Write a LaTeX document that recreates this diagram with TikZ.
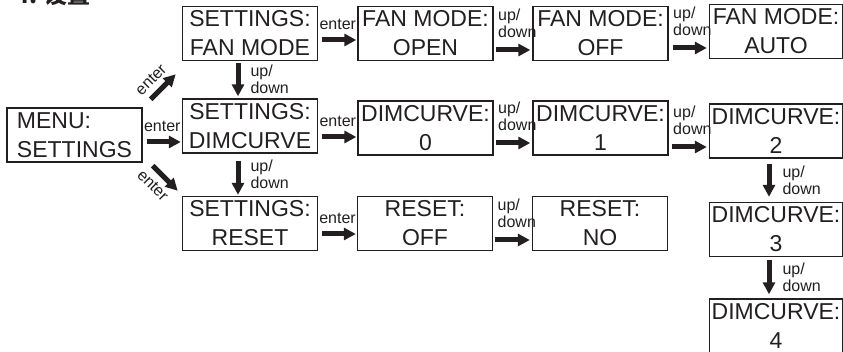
\documentclass[tikz,border=0pt]{standalone}
\usepackage{fontspec}
\setmainfont{Liberation Sans}
\newfontfamily\cjk{Noto Sans CJK SC}
\usepackage{tikz}
\usetikzlibrary{positioning}
\usetikzlibrary{arrows.meta}
\definecolor{myblack}{RGB}{35,31,32}

\tikzset{
  screen/.style={draw=myblack, line width=1.4pt, minimum width=135pt, minimum height=54pt,
                 inner sep=1pt, align=center, text=myblack, font=\fontsize{23}{29}\selectfont},
  fat/.style={draw=myblack, line width=5pt, -{Triangle[length=12pt,width=12pt]}},
  small/.style={text=myblack, inner sep=1pt, align=left, font=\fontsize{16}{17}\selectfont},
}

\begin{document}
\begin{tikzpicture}[x=1pt,y=-1pt]
	\useasboundingbox (0,0) rectangle (843,352);
	\node (T) [anchor=base west, text=myblack, font=\cjk\bfseries\fontsize{23}{23}\selectfont] at (12,4) {4. 设置};

	\begin{scope}[every node/.style={screen}]
	    \node (MS) [align=left] at (74.5,135) {MENU:\\SETTINGS};
	    \node (SF) at (250,33.5) {SETTINGS:\\FAN MODE};
	    \node (SD) at (250,126) {SETTINGS:\\DIMCURVE};
	    \node (SR) at (250,223.5) {SETTINGS:\\RESET};
	    \node (FO) at (425.5,33.5) {FAN MODE:\\OPEN};
	    \node (FF) at (600.5,33.5) {FAN MODE:\\OFF};
	    \node (FA) [minimum width=133pt] at (776,31.5) {FAN MODE:\\AUTO};
	    \node (D0) at (425.5,128) {DIMCURVE:\\0};
	    \node (D1) at (600.5,128) {DIMCURVE:\\1};
	    \node (D2) [minimum width=133pt] at (776,131) {DIMCURVE:\\2};
	    \node (D3) [minimum width=133pt] at (776,229.5) {DIMCURVE:\\3};
	    \node (D4) [minimum width=133pt] at (776,326) {DIMCURVE:\\4};
	    \node (RO) at (425,223.5) {RESET:\\OFF};
	    \node (RN) at (600,223.5) {RESET:\\NO};
	\end{scope}

	\begin{scope}[every edge/.style={fat}, every node/.style={small}]
	    % enter
	    \path (SF.east |- 0,40) edge[shorten <=4pt, shorten >=1pt] node[above=7pt] {enter} (FO.west |- 0,40);
	    \path (MS.east |- 0,142) edge[shorten <=4pt, shorten >=1pt] node[above=7pt] {enter} (SD.west |- 0,142);
	    \path (SD.east |- 0,137) edge[shorten <=4pt, shorten >=1pt] node[above=7pt] {enter} (D0.west |- 0,137);
	    \path (SR.east |- 0,234) edge[shorten <=4pt, shorten >=1pt] node[above=7pt] {enter} (RO.west |- 0,234);
	    \path ([shift={(8,-8)}]MS.north east) edge node[pos=0.4, sloped, above=5pt] {enter} ([shift={(33,-33)}]MS.north east);
	    \path ([shift={(10,3)}]MS.south east) edge node[pos=0.4, sloped, below=5pt] {enter} ([shift={(35,28)}]MS.south east);
	    % up/down, horizontal
	    \path (FO.east |- 0,50) edge[shorten <=2pt, shorten >=2pt] node[pos=0, above right=9pt and 1pt] {up/\\down} (FF.west |- 0,50);
	    \path (FF.east |- 0,48) edge[shorten <=4pt, shorten >=2pt] node[pos=0, above right=9pt and 1pt] {up/\\down} (FA.west |- 0,48);
	    \path (D0.east |- 0,143) edge[shorten <=2pt, shorten >=2pt] node[pos=0, above right=9pt and 1pt] {up/\\down} (D1.west |- 0,143);
	    \path (D1.east |- 0,147) edge[shorten <=3pt, shorten >=2pt] node[pos=0, above right=9pt and 1pt] {up/\\down} (D2.west |- 0,147);
	    \path (RO.east |- 0,240) edge[shorten <=2pt, shorten >=2pt] node[pos=0, above right=9pt and 1pt] {up/\\down} (RN.west |- 0,240);
	    % up/down, vertical
	    \path (SF.south -| 238,0) edge[shorten <=2pt, shorten >=2pt] node[right=9pt] {up/\\down} (SD.north -| 238,0);
	    \path (SD.south -| 238,0) edge[shorten <=7pt, shorten >=1pt] node[right=9pt] {up/\\down} (SR.north -| 238,0);
	    \path (D2.south -| 769,0) edge[shorten <=5pt, shorten >=5pt] node[right=10pt] {up/\\down} (D3.north -| 769,0);
	    \path (D3.south -| 769,0) edge[shorten <=3pt, shorten >=4pt] node[right=10pt] {up/\\down} (D4.north -| 769,0);
	\end{scope}
\end{tikzpicture}
\end{document}
